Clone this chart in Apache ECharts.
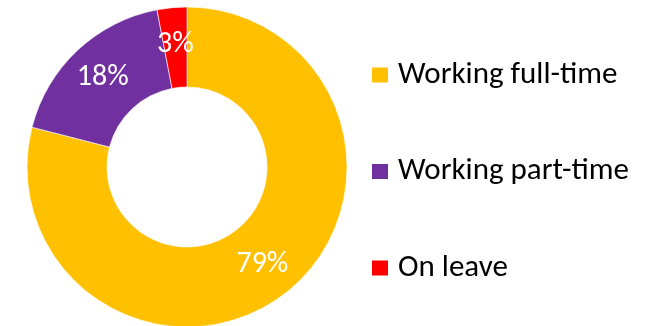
<!DOCTYPE html>
<html>
<head>
<meta charset="utf-8">
<script src="https://cdn.jsdelivr.net/npm/echarts@6/dist/echarts.min.js"></script>
<style>
  html, body { margin: 0; padding: 0; background: #fff; }
  #chart { width: 649px; height: 326px; }
</style>
</head>
<body>
<div id="chart"></div>
<script>
// Employment status breakdown (share of staff, %)
const categories = ['Working full-time', 'Working part-time', 'On leave'];
const shares = [79, 18, 3];
const colors = ['#FFC000', '#7030A0', '#FF0000'];

const chart = echarts.init(document.getElementById('chart'), null, { renderer: 'canvas' });
const fontFamily = 'Carlito, "Open Sans", "Liberation Sans", sans-serif';

chart.setOption({
  animation: false,
  backgroundColor: '#fff',
  color: colors,
  legend: {
    orient: 'vertical',
    left: 370,
    top: 58,
    padding: 0,
    icon: 'rect',
    itemWidth: 18,
    itemHeight: 17,
    itemGap: 62.5,
    data: categories,
    textStyle: {
      fontFamily: fontFamily,
      fontSize: 31,
      color: '#000',
      lineHeight: 34,
      padding: [0, 0, 0, 4]
    }
  },
  series: [{
    type: 'pie',
    center: [187, 167],
    radius: [80, 160],
    startAngle: 90,
    clockwise: true,
    silent: true,
    itemStyle: { borderColor: '#fff', borderWidth: 0.6 },
    label: {
      show: true,
      position: 'inside',
      formatter: '{c}%',
      color: '#fff',
      fontFamily: fontFamily,
      fontSize: 30
    },
    labelLine: { show: false },
    data: categories.map((name, i) => ({ name: name, value: shares[i] }))
  }]
});
</script>
</body>
</html>
